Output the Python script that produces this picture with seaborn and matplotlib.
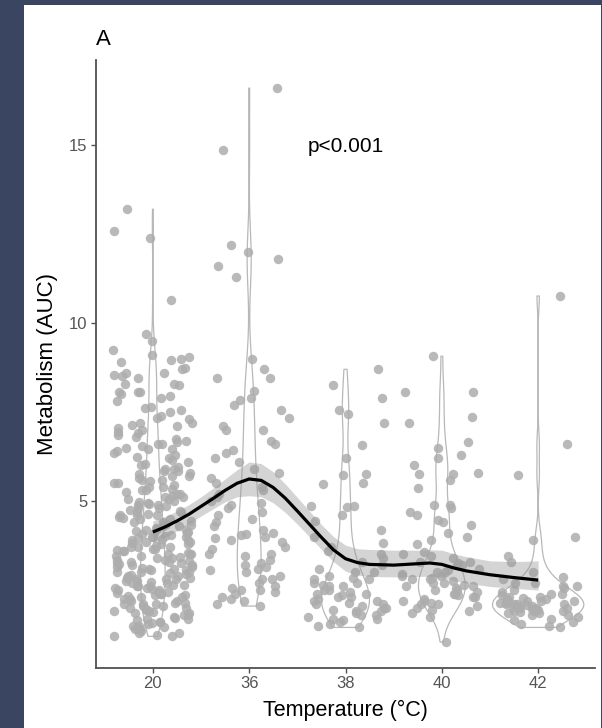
import numpy as np
import pandas as pd
import matplotlib
matplotlib.use("Agg")
import matplotlib.pyplot as plt
import seaborn as sns

# ---- data ----
categories = ["20", "36", "38", "40", "42"]

g20 = [13.2, 12.6, 12.4, 10.65,
       9.7, 9.5, 9.25, 9.1, 9.05, 9.0,
       8.96, 8.9, 8.75, 8.7, 8.6, 8.6, 8.55, 8.5, 8.45, 8.3, 8.3, 8.25, 8.05, 8.05, 8.0, 8.05,
       7.95, 7.9, 7.8, 7.65, 7.6, 7.55, 7.5, 7.4, 7.33, 7.3, 7.2, 7.2, 7.15, 7.1, 7.05, 7.0,
       6.95, 6.9, 6.85, 6.8, 6.75, 6.7, 6.65, 6.6, 6.6, 6.55, 6.5, 6.45, 6.45, 6.4, 6.35, 6.3,
       6.25, 6.2, 6.15, 6.1, 6.05, 6.0,
       5.95, 5.9, 5.9, 5.85, 5.85, 5.8, 5.75, 5.7, 5.7, 5.65, 5.6, 5.6, 5.55, 5.5, 5.5, 5.45,
       5.4, 5.4, 5.35, 5.3, 5.3, 5.25, 5.2, 5.2, 5.15, 5.1, 5.1, 5.05, 5.05, 5.0,
       4.98, 4.95, 4.9, 4.9, 4.85, 4.8, 4.8, 4.75, 4.7, 4.7, 4.65, 4.6, 4.6, 4.55, 4.5, 4.5,
       4.45, 4.4, 4.4, 4.35, 4.3, 4.3, 4.25, 4.2, 4.2, 4.15, 4.1, 4.1, 4.05, 4.0, 4.0, 4.02,
       4.92, 4.62, 4.32, 4.12, 4.72, 4.52, 4.22, 4.08,
       3.98, 3.95, 3.9, 3.9, 3.85, 3.85, 3.8, 3.8, 3.75, 3.7, 3.7, 3.65, 3.65, 3.6, 3.6, 3.55,
       3.5, 3.5, 3.45, 3.45, 3.4, 3.4, 3.35, 3.35, 3.3, 3.3, 3.25, 3.25, 3.2, 3.2, 3.15, 3.15,
       3.1, 3.1, 3.05, 3.05, 3.0, 3.0, 3.92, 3.72, 3.52, 3.32, 3.12, 3.82, 3.62, 3.42, 3.22, 3.02,
       2.98, 2.95, 2.9, 2.9, 2.85, 2.85, 2.8, 2.8, 2.75, 2.75, 2.7, 2.7, 2.65, 2.65, 2.6, 2.6,
       2.55, 2.55, 2.5, 2.5, 2.45, 2.45, 2.4, 2.4, 2.35, 2.35, 2.3, 2.3, 2.25, 2.25, 2.2, 2.2,
       2.15, 2.15, 2.1, 2.1, 2.05, 2.05, 2.0, 2.0, 2.92, 2.72, 2.52, 2.32, 2.12, 2.82, 2.62, 2.42,
       1.98, 1.95, 1.9, 1.9, 1.85, 1.85, 1.8, 1.8, 1.75, 1.7, 1.7, 1.65, 1.6, 1.6, 1.55, 1.5,
       1.5, 1.45, 1.4, 1.4, 1.35, 1.3, 1.3, 1.25, 1.2, 1.2, 1.88, 1.72, 1.58, 1.42]

g36 = [16.6, 14.85, 12.2, 12.0, 11.8, 11.6, 11.3, 9.0, 8.7, 8.45, 8.45, 8.1,
       7.9, 7.85, 7.7, 7.55, 7.33, 7.1, 7.0, 7.0, 6.7, 6.6, 6.43, 6.35, 6.2, 6.1,
       5.9, 5.8, 5.65, 5.5, 5.4, 5.3, 5.2, 5.1, 5.0, 4.95, 4.9, 4.8, 4.7, 4.6, 4.5,
       4.4, 4.3, 4.2, 4.1, 4.07, 4.05, 4.0, 3.95, 3.9, 3.85, 3.7, 3.65, 3.5, 3.5,
       3.45, 3.35, 3.25, 3.2, 3.15, 3.1, 3.05, 3.0, 2.9, 2.8, 2.8, 2.7, 2.6, 2.55,
       2.5, 2.5, 2.45, 2.4, 2.3, 2.25, 2.2, 2.1, 2.05]

g38 = [8.7, 8.25, 7.9, 7.55, 7.45, 7.2, 6.57, 6.2, 5.76, 5.73, 5.5, 5.48,
       4.86, 4.86, 4.83, 4.6, 4.45, 4.2, 4.0, 3.82, 3.7, 3.6, 3.5, 3.4, 3.3,
       3.2, 3.1, 3.0, 3.0, 2.9, 2.85, 2.8, 2.8, 2.7, 2.7, 2.65, 2.6, 2.6, 2.5,
       2.5, 2.45, 2.4, 2.4, 2.35, 2.3, 2.3, 2.25, 2.2, 2.2, 2.15, 2.1, 2.1, 2.05,
       2.0, 2.0, 1.95, 1.9, 1.9, 1.85, 1.8, 1.8, 1.75, 1.7, 1.7, 1.65, 1.6, 1.55,
       1.5, 1.45]

g40 = [9.07, 8.06, 8.06, 7.36, 7.19, 6.66, 6.5, 6.29, 6.2, 6.01, 5.8, 5.76, 5.76,
       5.6, 5.37, 4.9, 4.9, 4.8, 4.7, 4.6, 4.47, 4.4, 4.33, 4.1, 4.0, 3.9, 3.8,
       3.57, 3.5, 3.45, 3.4, 3.3, 3.3, 3.25, 3.2, 3.2, 3.1, 3.05, 3.0, 3.0, 2.95,
       2.9, 2.9, 2.85, 2.8, 2.8, 2.75, 2.7, 2.7, 2.65, 2.6, 2.6, 2.55, 2.5, 2.5,
       2.45, 2.4, 2.4, 2.35, 2.3, 2.3, 2.25, 2.2, 2.2, 2.15, 2.1, 2.1, 2.05, 2.0,
       1.95, 1.9, 1.85, 1.74, 1.04]

g42 = [10.76, 6.6, 5.73, 4.0, 3.9, 3.45, 3.3, 3.0, 2.86, 2.8, 2.7, 2.6, 2.55,
       2.5, 2.45, 2.4, 2.4, 2.35, 2.3, 2.3, 2.25, 2.25, 2.2, 2.2, 2.2, 2.15, 2.15,
       2.1, 2.1, 2.1, 2.05, 2.05, 2.0, 2.0, 2.0, 1.95, 1.95, 1.9, 1.9, 1.9, 1.85,
       1.85, 1.8, 1.8, 1.75, 1.7, 1.65, 1.6, 1.55, 1.5, 1.45, 2.12, 2.02, 1.98,
       2.18, 2.28, 1.88, 2.08, 2.6, 2.7]

# loess fit (category position, fit, lower, upper)
fit_pos = [0, 0.125, 0.25, 0.375, 0.5, 0.625, 0.75, 0.875, 1.0, 1.125, 1.25, 1.375,
           1.5, 1.625, 1.75, 1.875, 2.0, 2.125, 2.25, 2.5, 2.75, 2.875, 3.0, 3.125,
           3.25, 3.5, 3.75, 4.0]
fit_val = [4.13, 4.27, 4.44, 4.63, 4.85, 5.07, 5.30, 5.50, 5.62, 5.58, 5.38, 5.08,
           4.72, 4.35, 3.98, 3.63, 3.38, 3.27, 3.22, 3.20, 3.24, 3.26, 3.22, 3.12,
           3.04, 2.93, 2.85, 2.78]
fit_lo = [3.82, 3.98, 4.16, 4.36, 4.58, 4.78, 4.98, 5.12, 5.15, 5.12, 4.95, 4.68,
          4.35, 4.00, 3.64, 3.30, 3.03, 2.92, 2.88, 2.87, 2.88, 2.89, 2.85, 2.77,
          2.70, 2.60, 2.55, 2.50]
fit_hi = [4.44, 4.56, 4.72, 4.90, 5.12, 5.36, 5.62, 5.88, 6.10, 6.05, 5.82, 5.48,
          5.10, 4.72, 4.34, 4.00, 3.76, 3.66, 3.64, 3.62, 3.62, 3.63, 3.62, 3.52,
          3.44, 3.32, 3.30, 3.32]

yticks = [5, 10, 15]
annotation = "p<0.001"

# ---- build frame ----
groups = [g20, g36, g38, g40, g42]
df = pd.DataFrame({
    "temp": np.concatenate([[c] * len(g) for c, g in zip(categories, groups)]),
    "value": np.concatenate(groups),
})

plt.rcParams["font.family"] = ["Liberation Sans", "DejaVu Sans"]

W, H = 602, 728
fig = plt.figure(figsize=(W / 100, H / 100), dpi=100)
fig.patch.set_facecolor("#3a4661")
panel = plt.Rectangle((24 / W, 0), (601 - 24) / W, 723 / H,
                      transform=fig.transFigure, facecolor="white",
                      edgecolor="none", zorder=-10)
fig.add_artist(panel)

ax = fig.add_axes([96 / W, (H - 668) / H, (595 - 96) / W, (668 - 60) / H])
ax.set_facecolor("none")

np.random.seed(11)
sns.stripplot(data=df, x="temp", y="value", order=categories, ax=ax,
              jitter=0.42, size=6.8, color="#adadad", alpha=0.85,
              linewidth=0, zorder=2)
sns.violinplot(data=df, x="temp", y="value", order=categories, ax=ax,
               fill=False, color="#b8b8b8", linewidth=0.9, inner=None,
               cut=0, density_norm="area", bw_adjust=0.6, width=0.95)

ax.fill_between(fit_pos, fit_lo, fit_hi, color="#999999", alpha=0.42,
                linewidth=0, zorder=4)
ax.plot(fit_pos, fit_val, color="black", lw=2.3, zorder=5,
        solid_capstyle="butt", solid_joinstyle="round")

ax.text(2.0, 14.95, annotation, ha="center", va="center", fontsize=15,
        color="black")

ax.set_xlim(-0.59, 4.59)
ax.set_ylim(0.31, 17.39)
ax.set_yticks(yticks)
ax.set_xlabel("Temperature (°C)", fontsize=15.5, color="black")
ax.set_ylabel("Metabolism (AUC)", fontsize=16, color="black")
ax.yaxis.set_label_coords(-0.076, 0.5)
ax.xaxis.set_label_coords(0.5, -0.052)
ax.set_title("A", loc="left", fontsize=16, pad=11, x=0.0)

for s in ["top", "right"]:
    ax.spines[s].set_visible(False)
for s in ["left", "bottom"]:
    ax.spines[s].set_color("#505050")
    ax.spines[s].set_linewidth(1.3)
ax.tick_params(axis="both", colors="#505050", labelcolor="#555555",
               labelsize=12, length=3.5, width=1.0, pad=2.5)

fig.savefig("out.png", dpi=100, facecolor=fig.get_facecolor())
